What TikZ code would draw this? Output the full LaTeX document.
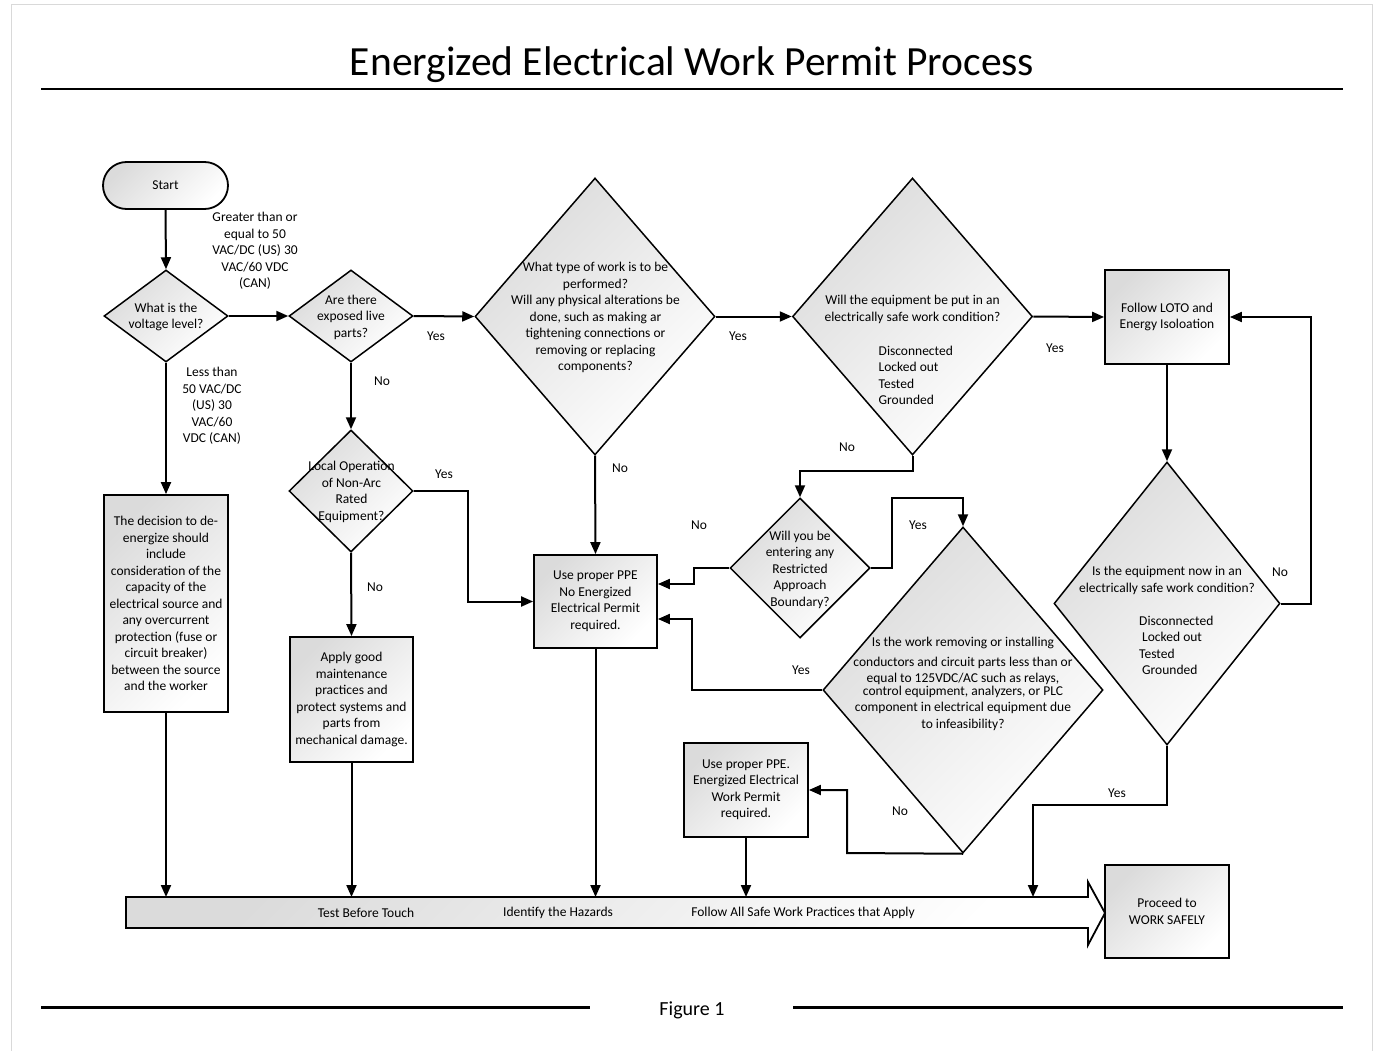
\documentclass[tikz,border=0pt]{standalone}
\usepackage{fontspec}
\setmainfont{Carlito}
\usetikzlibrary{arrows.meta,shapes.geometric,calc}
\begin{document}
\begin{tikzpicture}[x=1pt,y=-1pt,
  every node/.style={font=\fontsize{13.5}{16.5}\selectfont},
  txt/.style={align=center, inner sep=0pt},
  grad/.style={top color=black!14, bottom color=white, shading angle=45},
  boxn/.style={draw, line width=1.8pt, grad, inner sep=0pt, align=center},
  dia/.style={draw, diamond, line width=1.5pt, grad, inner sep=0pt},
  arr/.style={line width=2pt, -{Triangle[length=12pt,width=10pt]}},
]
\useasboundingbox (0,0) rectangle (1377,1051);
% page border
\draw[black!15, line width=1pt] (11,1100) -- (11,4.5) -- (1372,4.5) -- (1372,1100);

% title and rules
\node[font=\fontsize{41.5}{48}\selectfont, anchor=base, inner sep=0pt] (title) at (692,76) {Energized Electrical Work Permit Process};
\draw[line width=2.5pt] (41,89) -- (1343,89);
\draw[line width=2.5pt] (41,1007.5) -- (590,1007.5);
\draw[line width=2.5pt] (793,1007.5) -- (1343,1007.5);
\node[font=\fontsize{20}{24}\selectfont, inner sep=0pt] (fig) at (692,1010) {Figure 1};

% start
\node[draw, line width=1.8pt, grad, rounded corners=23.5pt, minimum width=125pt, minimum height=47pt, inner sep=0pt] (start) at (165.5,185.5) {Start};

% diamonds
\node[dia, minimum width=124pt, minimum height=92pt] (d1) at (166,316) {};
\node[txt] (d1t) at (166,317) {What is the\\voltage level?};

\node[dia, minimum width=124pt, minimum height=92pt] (d2) at (351,316) {};
\node[txt] (d2t) at (351,317) {Are there\\exposed live\\parts?};

\node[dia, minimum width=240pt, minimum height=277pt] (d3) at (595,316.5) {};
\node[txt] (d3t) at (595.5,317.5) {What type of work is to be\\performed?\\Will any physical alterations be\\done, such as making ar\\tightening connections or\\removing or replacing\\components?};

\node[dia, minimum width=240pt, minimum height=277pt] (d4) at (912.5,316.5) {};
\node[txt] (d4t) at (912.5,309.5) {Will the equipment be put in an\\electrically safe work condition?};
\node[txt, align=left, anchor=west] (d4l) at (878.5,375.5) {Disconnected\\Locked out\\Tested\\Grounded};

\node[dia, minimum width=124pt, minimum height=122pt] (d2b) at (351,491) {};
\node[txt] (d2bt) at (351.5,492) {Local Operation\\of Non-Arc\\Rated\\Equipment?};

\node[dia, minimum width=140pt, minimum height=140pt] (d5) at (800,568) {};
\node[txt] (d5t) at (800,569.5) {Will you be\\entering any\\Restricted\\Approach\\Boundary?};

\node[dia, minimum width=280pt, minimum height=326pt] (d6) at (963,690) {};
\node[txt] (d6t) at (963,683.5) {Is the work removing or installing\\[3.5pt]conductors and circuit parts less than or\\equal to 125VDC/AC such as relays,\\[-4pt]control equipment, analyzers, or PLC\\component in electrical equipment due\\to infeasibility?};

\node[dia, minimum width=226pt, minimum height=283pt] (d7) at (1167,603.5) {};
\node[txt] (d7t) at (1167,580.5) {Is the equipment now in an\\electrically safe work condition?};
\node[txt, align=left, anchor=west] (d7l) at (1139,645.5) {Disconnected\\\hspace{3pt}Locked out\\Tested\\\hspace{3pt}Grounded};

% boxes
\node[boxn, minimum width=124pt, minimum height=217pt] (b1) at (166,603.5) {The decision to de-\\energize should\\include\\consideration of the\\capacity of the\\electrical source and\\any overcurrent\\protection (fuse or\\circuit breaker)\\between the source\\and the worker};
\node[boxn, minimum width=123pt, minimum height=125pt] (maint) at (351.5,699.5) {Apply good\\maintenance\\practices and\\protect systems and\\parts from\\mechanical damage.};
\node[boxn, minimum width=123pt, minimum height=93pt] (ppe) at (595.5,601.5) {Use proper PPE\\No Energized\\Electrical Permit\\required.};
\node[boxn, minimum width=124pt, minimum height=94pt] (loto) at (1167,317) {Follow LOTO and\\Energy Isoloation};
\node[boxn, minimum width=124pt, minimum height=94pt] (eewp) at (746,790) {Use proper PPE.\\Energized Electrical\\Work Permit\\required.};
\node[boxn, minimum width=124pt, minimum height=93pt] (proceed) at (1167,911.5) {Proceed to\\WORK SAFELY};

% big arrow
\draw[line width=1.8pt, grad] (126,897) -- (1088,897) -- (1088,882) -- (1105,913) -- (1088,945) -- (1088,928) -- (126,928) -- cycle;
\coordinate (bat) at (0,897);
\node[txt] (s1) at (366,913) {Test Before Touch};
\node[txt] (s2) at (558,913) {Identify the Hazards};
\node[txt] (s3) at (803,913) {Follow All Safe Work Practices that Apply};

% connectors
\draw[arr] (start.south) -- (d1.north);
\draw[arr] (d1.east) -- (d2.west);
\draw[arr] (d2.east) -- (d3.west);
\draw[arr] (d3.east) -- (d4.west);
\draw[arr] (d4.east) -- (loto.west);
\draw[arr] (d1.south) -- (b1.north);
\draw[arr] (d2.south) -- (d2b.north);
\draw[arr] (d2b.south) -- (maint.north);
\draw[arr] (d2b.east) -- (468,491) |- (ppe.west);
\draw[arr] (d3.south) -- (ppe.north);
\draw[arr] (d4.south) -- ++(0,15) -| (d5.north);
\draw[arr] (d5.west) -- (694,568) |- ([yshift=17.5pt]ppe.east);
\draw[arr] (d5.east) -- (892,568) -- (892,498) -| (d6.north);
\draw[arr] (d6.west) -- (692,690) |- ([yshift=-17.5pt]ppe.east);
\draw[arr] (d6.south) -- (847,853) |- (eewp.east);
\draw[arr] (loto.south) -- (d7.north);
\draw[arr] (d7.east) -- (1311,603.5) |- (loto.east);
\coordinate (d7end) at (1033,897);
\draw[arr] (d7.south) -- (1167,805) -| (d7end);
\draw[arr] (b1.south) -- (b1.south |- bat);
\draw[arr] (maint.south) -- (maint.south |- bat);
\draw[arr] (ppe.south) -- (ppe.south |- bat);
\draw[arr] (eewp.south) -- (eewp.south |- bat);

% labels
\node[txt] (lg) at (255,251) {Greater than or\\equal to 50\\VAC/DC (US) 30\\VAC/60 VDC\\(CAN)};
\node[txt] (ll) at (212,406) {Less than\\50 VAC/DC\\(US) 30\\VAC/60\\VDC (CAN)};
\node[txt] at (436,336) {Yes};
\node[txt] at (382,381) {No};
\node[txt] at (444,474) {Yes};
\node[txt] at (375,587) {No};
\node[txt] at (620,468) {No};
\node[txt] at (738,336) {Yes};
\node[txt] at (1055,348) {Yes};
\node[txt] at (847,447) {No};
\node[txt] at (699,525) {No};
\node[txt] at (918,525) {Yes};
\node[txt] at (801,670) {Yes};
\node[txt] at (900,811) {No};
\node[txt] at (1280,572) {No};
\node[txt] at (1117,793) {Yes};
\end{tikzpicture}
\end{document}
